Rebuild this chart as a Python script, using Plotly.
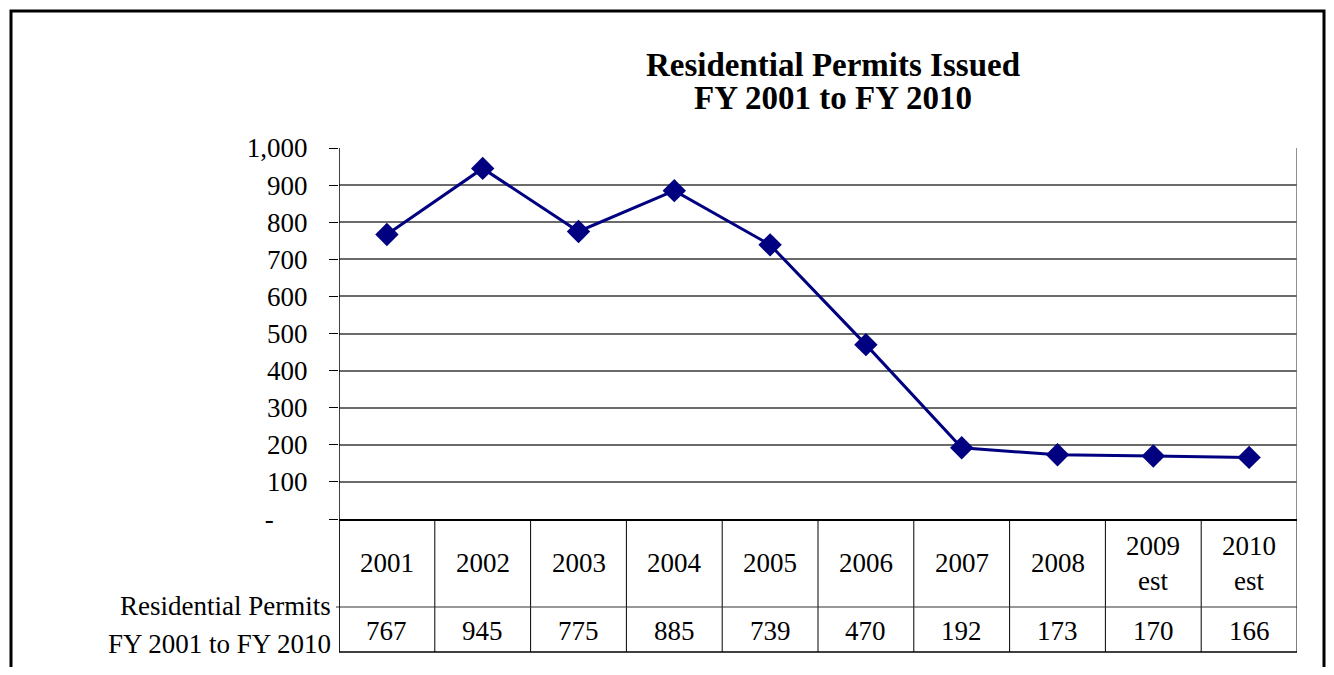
import plotly.graph_objects as go

# data
years = ["2001", "2002", "2003", "2004", "2005", "2006", "2007", "2008", "2009<br>est", "2010<br>est"]
permits = [767, 945, 775, 885, 739, 470, 192, 173, 170, 166]
y_ticks = [0, 100, 200, 300, 400, 500, 600, 700, 800, 900, 1000]
y_tick_text = ["-" + "\u00a0" * 5, "100", "200", "300", "400", "500", "600", "700", "800", "900", "1,000"]
row_label = ["Residential Permits", "FY 2001 to FY 2010"]
title_lines = ["Residential Permits Issued", "FY 2001 to FY 2010"]

# page body has an 8px margin, so the figure is drawn a bit smaller
OFF = 8
W, H = 1334 - 2 * OFF, 675 - 2 * OFF
FONT = "Liberation Serif, Times New Roman, serif"
NAVY = "#000080"
GRID = "#6b6b6b"


def px_x(p):
    return (p - OFF) / W


def px_y(p):
    return 1 - (p - OFF) / H


x_idx = list(range(len(years)))

fig = go.Figure()
fig.add_trace(go.Scatter(
    x=x_idx, y=permits, mode="lines+markers",
    line=dict(color=NAVY, width=3),
    marker=dict(symbol="diamond", size=18, color=NAVY),
    showlegend=False, hoverinfo="x+y",
))

shapes = []
# outer frame
shapes.append(dict(type="rect", xref="paper", yref="paper",
                   x0=px_x(11), x1=px_x(1324), y0=-0.2, y1=px_y(11),
                   line=dict(color="black", width=3)))
# right border of plot area (gray)
shapes.append(dict(type="line", xref="x", yref="y", x0=9.5, x1=9.5, y0=0, y1=1000,
                   line=dict(color=GRID, width=1.5)))
# data table lines
row_mid, row_bot = px_y(607), px_y(652)
y_top = px_y(519)
for i in range(len(years) + 1):
    shapes.append(dict(type="line", xref="x", yref="paper", x0=i - 0.5, x1=i - 0.5,
                       y0=row_bot, y1=y_top, line=dict(color="black", width=1)))
shapes.append(dict(type="line", xref="paper", yref="paper", x0=px_x(336), x1=px_x(1297),
                   y0=row_mid, y1=row_mid, line=dict(color="#333333", width=1)))
shapes.append(dict(type="line", xref="x", yref="paper", x0=-0.5, x1=9.5,
                   y0=row_bot, y1=row_bot, line=dict(color="black", width=1.5)))

annotations = []
for i, (yr, v) in enumerate(zip(years, permits)):
    annotations.append(dict(x=i, y=px_y(563), xref="x", yref="paper", text=yr,
                            showarrow=False, font=dict(size=27, family=FONT, color="black"),
                            align="center", yanchor="middle"))
    annotations.append(dict(x=i, y=px_y(631), xref="x", yref="paper", text=str(v),
                            showarrow=False, font=dict(size=27, family=FONT, color="black"),
                            yanchor="middle"))
for txt, yc in zip(row_label, [606, 644]):
    annotations.append(dict(x=px_x(333), y=px_y(yc), xref="paper", yref="paper", text=txt,
                            showarrow=False, xanchor="right", yanchor="middle",
                            font=dict(size=27, family=FONT, color="black")))
for txt, yc in zip(title_lines, [65, 98]):
    annotations.append(dict(x=px_x(833), y=px_y(yc), xref="paper", yref="paper",
                            text="<b>" + txt + "</b>", showarrow=False,
                            xanchor="center", yanchor="middle",
                            font=dict(size=33, family=FONT, color="black")))

fig.update_layout(
    width=W, height=H,
    margin=dict(l=0, r=0, t=0, b=0, autoexpand=False),
    paper_bgcolor="white", plot_bgcolor="white",
    font=dict(family=FONT, color="black"),
    xaxis=dict(domain=[px_x(339), px_x(1297)], range=[-0.5, 9.5], automargin=False,
               showgrid=False, zeroline=False, showticklabels=False,
               showline=True, linecolor="black", linewidth=1.5, ticks=""),
    yaxis=dict(domain=[px_y(519), px_y(148)], range=[0, 1000], automargin=False,
               tickvals=y_ticks, ticktext=y_tick_text,
               tickfont=dict(size=27, family=FONT, color="black"),
               showgrid=True, gridcolor=GRID, gridwidth=1.5, zeroline=False,
               showline=False, ticks="outside", ticklen=9, tickcolor="black",
               tickwidth=1, ticklabelstandoff=16),
    shapes=shapes,
    annotations=annotations,
)
# left axis line runs down through the table
fig.add_shape(type="line", xref="x", yref="paper", x0=-0.5, x1=-0.5,
              y0=row_bot, y1=px_y(148), line=dict(color="black", width=1.5))

fig.write_html("out.html")
